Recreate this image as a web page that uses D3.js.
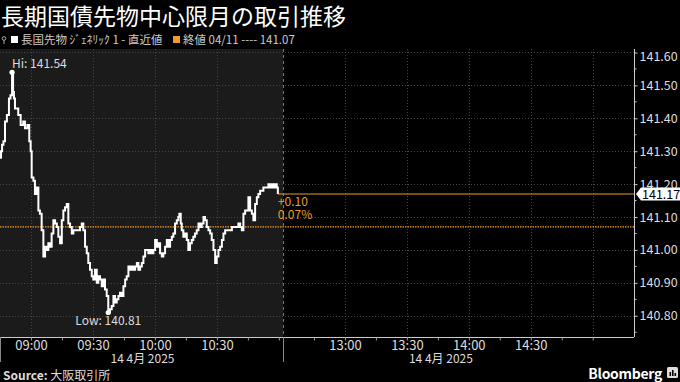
<!DOCTYPE html>
<html>
<head>
<meta charset="utf-8">
<script src="https://cdn.jsdelivr.net/npm/d3@7"></script>
<style>
  html, body { margin: 0; padding: 0; background: #000; }
  svg { display: block; }
  text { font-family: "Noto Sans CJK JP", "Noto Sans", sans-serif; }
</style>
</head>
<body>
<script>
// data: tick prices for the front-month JGB future, 14 Apr 2025 morning session
const times = [
  "08:45:00","08:45:30","08:46:00","08:46:40","08:47:25","08:48:20","08:49:20","08:50:05","08:50:50","08:51:20",
  "08:51:45","08:52:15","08:53:05","08:53:50","08:55:00","08:56:15","08:57:05","08:58:15","08:59:10","08:59:50",
  "09:00:20","09:01:10","09:01:55","09:02:45","09:03:35","09:04:20","09:05:10","09:06:00","09:06:50","09:07:35",
  "09:08:25","09:09:15","09:10:00","09:10:50","09:11:40","09:12:30","09:13:15","09:14:05","09:14:55","09:15:40",
  "09:16:30","09:17:20","09:18:05","09:18:55","09:19:45","09:20:30","09:22:10","09:23:45","09:24:35","09:25:20",
  "09:26:10","09:27:00","09:27:45","09:28:35","09:29:25","09:30:10","09:31:00","09:31:50","09:32:35","09:33:25",
  "09:34:15","09:35:00","09:35:50","09:36:40","09:37:25","09:38:15","09:39:05","09:39:55","09:40:40","09:41:30",
  "09:42:20","09:43:05","09:43:55","09:44:45","09:45:35","09:46:20","09:47:10","09:48:00","09:48:45","09:49:35",
  "09:50:25","09:51:15","09:52:00","09:52:50","09:53:40","09:54:25","09:55:15","09:56:05","09:56:50","09:57:40",
  "09:58:30","09:59:15","10:00:05","10:00:55","10:01:40","10:02:30","10:03:20","10:04:05","10:04:55","10:05:45",
  "10:06:30","10:07:20","10:08:10","10:08:55","10:09:45","10:10:35","10:11:20","10:11:50","10:12:30","10:13:00",
  "10:13:45","10:14:35","10:15:25","10:16:10","10:17:00","10:17:50","10:18:35","10:19:25","10:20:15","10:21:05",
  "10:21:50","10:22:40","10:23:30","10:24:15","10:25:05","10:25:55","10:26:45","10:27:30","10:28:20","10:29:10",
  "10:29:55","10:30:45","10:31:35","10:32:25","10:33:10","10:34:00","10:34:50","10:35:35","10:36:25","10:37:15",
  "10:38:00","10:38:50","10:39:40","10:40:25","10:41:15","10:42:05","10:42:50","10:43:40","10:44:30","10:45:15",
  "10:46:05","10:46:55","10:47:40","10:48:30","10:49:20","10:50:05","10:50:55","10:51:45","10:52:30","10:53:20",
  "10:54:10","10:54:55","10:55:45","10:56:35","10:57:20","10:58:10","10:59:00","10:59:30"
];
const prices = [
  141.28,141.30,141.32,141.33,141.39,141.41,141.46,141.47,141.54,141.48,
  141.46,141.43,141.43,141.41,141.38,141.39,141.37,141.38,141.33,141.30,
  141.22,141.21,141.17,141.19,141.12,141.11,141.06,140.98,141.01,141.00,
  141.02,141.01,141.05,141.09,141.08,141.07,141.04,141.02,141.09,141.12,
  141.13,141.14,141.08,141.07,141.05,141.06,141.06,141.07,141.08,141.06,
  141.01,140.99,140.96,140.94,140.92,140.91,140.94,140.90,140.92,140.91,
  140.89,140.91,140.88,140.86,140.81,140.82,140.83,140.86,140.84,140.85,
  140.86,140.87,140.86,140.89,140.91,140.92,140.95,140.94,140.95,140.94,
  140.95,140.96,140.94,140.95,140.96,140.98,141.00,141.00,140.99,141.00,
  140.99,141.00,141.03,141.01,141.02,140.99,140.98,140.99,141.01,141.03,
  141.01,141.03,141.04,141.05,141.08,141.09,141.10,141.11,141.08,141.06,
  141.04,141.05,141.03,141.00,141.02,141.03,141.04,141.05,141.06,141.08,
  141.07,141.08,141.10,141.09,141.07,141.06,141.05,141.03,141.00,140.96,
  140.98,141.00,141.01,141.03,141.05,141.06,141.06,141.06,141.06,141.07,
  141.07,141.07,141.07,141.08,141.07,141.06,141.11,141.12,141.12,141.16,
  141.12,141.11,141.09,141.14,141.16,141.17,141.18,141.18,141.19,141.19,
  141.19,141.20,141.19,141.20,141.19,141.20,141.19,141.17
];
const prevClose = 141.07;
const prevCloseDate = "04/11";
const yTicks = [140.80, 140.90, 141.00, 141.10, 141.20, 141.30, 141.40, 141.50, 141.60];
const xLabels = ["09:00", "09:30", "10:00", "10:30", "13:00", "13:30", "14:00", "14:30"];
const xGrid = ["09:00", "09:30", "10:00", "10:30", "13:00", "13:30", "14:00", "14:30", "15:00"];
const sessionBounds = ["08:45", "11:02", "12:30", "15:20"];
const dateLabel = "14 4月 2025";
const title = "長期国債先物中心限月の取引推移";
const seriesName = "長国先物 ｼﾞｪﾈﾘｯｸ 1 - 直近値";

const W = 680, H = 382;
const plot = { left: 0, right: 634, top: 49, bottom: 337 };
const orange = "#f09a2a";
const numFont = "Roboto, 'Noto Sans', sans-serif";

const parseS = d3.timeParse("%H:%M:%S");
const parseM = d3.timeParse("%H:%M");
const data = times.map((t, i) => ({ t: parseS(t), v: prices[i] }));

const svg = d3.select("body").append("svg").attr("width", W).attr("height", H);
svg.append("rect").attr("width", W).attr("height", H).attr("fill", "#000");

const x = d3.scaleTime()
  .domain(sessionBounds.map(parseM))
  .range([plot.left, 283, 283, plot.right]);
const y = d3.scaleLinear()
  .domain([140.7355, 141.6106])
  .range([plot.bottom, plot.top]);

// morning session shading
svg.append("rect")
  .attr("x", x(parseM("08:45"))).attr("y", plot.top)
  .attr("width", x(parseM("11:02")) - x(parseM("08:45")))
  .attr("height", plot.bottom - plot.top)
  .attr("fill", "#1b1b1b");

// grid
const grid = svg.append("g").attr("stroke", "#444").attr("stroke-dasharray", "1,2");
grid.selectAll(".hg").data(yTicks).enter().append("line")
  .attr("x1", plot.left).attr("x2", plot.right)
  .attr("y1", d => Math.round(y(d)) + 0.5).attr("y2", d => Math.round(y(d)) + 0.5);
grid.selectAll(".vg").data(xGrid).enter().append("line")
  .attr("x1", d => Math.round(x(parseM(d))) + 0.5).attr("x2", d => Math.round(x(parseM(d))) + 0.5)
  .attr("y1", plot.top).attr("y2", plot.bottom);

// session break
svg.append("line")
  .attr("x1", 283.5).attr("x2", 283.5).attr("y1", plot.top).attr("y2", plot.bottom)
  .attr("stroke", "#777").attr("stroke-dasharray", "3,3");

// previous close (dotted) and last price (solid)
const last = data[data.length - 1];
svg.append("line")
  .attr("x1", plot.left).attr("x2", plot.right)
  .attr("y1", y(prevClose)).attr("y2", y(prevClose))
  .attr("stroke", orange).attr("stroke-width", 1.2).attr("stroke-dasharray", "1.5,1");
svg.append("line")
  .attr("x1", x(last.t)).attr("x2", plot.right)
  .attr("y1", y(last.v)).attr("y2", y(last.v))
  .attr("stroke", orange).attr("stroke-width", 1);

// price line
const line = d3.line().x(d => x(d.t)).y(d => y(d.v)).curve(d3.curveStepAfter);
svg.append("path").datum(data)
  .attr("d", line)
  .attr("fill", "none").attr("stroke", "#fff").attr("stroke-width", 2);

// hi / low
const hi = data.reduce((a, b) => (b.v > a.v ? b : a));
const lo = data.reduce((a, b) => (b.v < a.v ? b : a));
[hi, lo].forEach(p => {
  svg.append("circle").attr("cx", x(p.t)).attr("cy", y(p.v)).attr("r", 2.6).attr("fill", "#fff");
});
svg.append("text").attr("x", x(hi.t)).attr("y", y(hi.v) - 4)
  .attr("fill", "#ddd").attr("font-size", 12).text("Hi: " + hi.v.toFixed(2));
svg.append("text").attr("x", x(lo.t)).attr("y", y(lo.v) + 13).attr("text-anchor", "middle")
  .attr("fill", "#ddd").attr("font-size", 12).text("Low: " + lo.v.toFixed(2));

// change labels
const chg = last.v - prevClose;
svg.append("text").attr("x", x(last.t)).attr("y", y(last.v) + 12)
  .attr("fill", orange).attr("font-size", 12)
  .text((chg >= 0 ? "+" : "") + chg.toFixed(2));
svg.append("text").attr("x", x(last.t)).attr("y", y(last.v) + 25)
  .attr("fill", orange).attr("font-size", 12)
  .text((chg / prevClose * 100).toFixed(2) + "%");

// right axis
const yAxis = d3.axisRight(y).tickValues(yTicks).tickSize(3).tickFormat(d3.format(".2f"));
const ya = svg.append("g").attr("transform", `translate(${plot.right + 0.5},0)`).call(yAxis);
ya.select(".domain").attr("stroke", "#ccc").attr("d", `M0,${plot.top}V${plot.bottom}`);
ya.selectAll(".tick line").attr("stroke", "#ccc");
ya.selectAll(".tick text").attr("fill", "#ddd").attr("font-size", 12.5).attr("x", 5)
  .attr("font-family", numFont);
ya.selectAll(".tick").filter(d => d === 141.60).select("text").attr("dy", "0.62em");
const minor = d3.range(0, 8).map(i => 140.75 + i * 0.1).concat([141.55]);
ya.selectAll(".minor").data(minor).enter().append("line")
  .attr("x1", 0).attr("x2", 2).attr("y1", d => y(d)).attr("y2", d => y(d)).attr("stroke", "#ccc");

// last price tag
const ty = y(last.v);
svg.append("path")
  .attr("d", `M${plot.right + 2},${ty} L${plot.right + 7},${ty - 6.5} H${W} V${ty + 6.5} H${plot.right + 7} Z`)
  .attr("fill", "#fff");
svg.append("text").attr("x", plot.right + 8).attr("y", ty + 4.5)
  .attr("fill", "#000").attr("font-size", 12.5)
  .attr("font-family", numFont).text(last.v.toFixed(2));

// bottom axis
const tickTimes = d3.timeMinute.every(15).range(parseM("08:45"), parseM("11:01"))
  .concat(d3.timeMinute.every(15).range(parseM("12:30"), parseM("15:01")));
const fmt = d3.timeFormat("%H:%M");
const xAxis = d3.axisBottom(x).tickValues(tickTimes).tickSize(3)
  .tickFormat(d => (xLabels.includes(fmt(d)) ? fmt(d) : ""));
const xa = svg.append("g").attr("transform", `translate(0,${plot.bottom + 0.5})`).call(xAxis);
xa.select(".domain").attr("stroke", "#ccc").attr("d", `M${plot.left},0H${plot.right}`);
xa.selectAll(".tick line").attr("stroke", "#999");
xa.selectAll(".tick text").attr("fill", "#ddd").attr("font-size", 13).attr("y", 3)
  .attr("font-family", numFont);

[0.5, 283.5].forEach(px => {
  svg.append("line").attr("x1", px).attr("x2", px).attr("y1", plot.bottom).attr("y2", 362)
    .attr("stroke", "#888");
});
[[parseM("08:45"), parseM("11:02")], [parseM("12:30"), parseM("15:02")]].forEach(([a, b]) => {
  svg.append("text").attr("x", (x(a) + x(b)) / 2 + 1).attr("y", 363).attr("text-anchor", "middle")
    .attr("fill", "#ddd").attr("font-size", 12).text(dateLabel);
});

// title & legend
svg.append("text").attr("x", 1).attr("y", 25).attr("fill", "#fff").attr("font-size", 23).text(title);
const lg = svg.append("g").attr("font-size", 11.5).attr("fill", "#ccc");
lg.append("circle").attr("cx", 4).attr("cy", 38.5).attr("r", 1.8).attr("fill", "none").attr("stroke", "#aaa");
lg.append("line").attr("x1", 4).attr("x2", 4).attr("y1", 40).attr("y2", 44).attr("stroke", "#aaa");
lg.append("rect").attr("x", 11).attr("y", 36).attr("width", 7).attr("height", 7).attr("fill", "#fff");
lg.append("text").attr("x", 21).attr("y", 44).text(seriesName);
lg.append("rect").attr("x", 173).attr("y", 36).attr("width", 7).attr("height", 7).attr("fill", orange);
lg.append("text").attr("x", 183).attr("y", 44).text("終値 " + prevCloseDate + " ---- " + prevClose.toFixed(2));

// footer
const src = svg.append("text").attr("x", 3).attr("y", 380).attr("fill", "#ddd").attr("font-size", 12);
src.append("tspan").attr("font-weight", "bold").text("Source: ");
src.append("tspan").text("大阪取引所");
svg.append("text").attr("x", 662).attr("y", 379).attr("text-anchor", "end")
  .attr("fill", "#fff").attr("font-size", 14).attr("font-weight", "bold")
  .attr("font-family", numFont).attr("letter-spacing", -0.3).text("Bloomberg");
svg.append("rect").attr("x", 667).attr("y", 367).attr("width", 11).attr("height", 11).attr("rx", 1.5).attr("fill", "#ddd");
[[669.5, 4], [672, 6], [674.5, 3]].forEach(([bx, bh]) => {
  svg.append("rect").attr("x", bx).attr("y", 376 - bh).attr("width", 1.6).attr("height", bh).attr("fill", "#000");
});
</script>
</body>
</html>
